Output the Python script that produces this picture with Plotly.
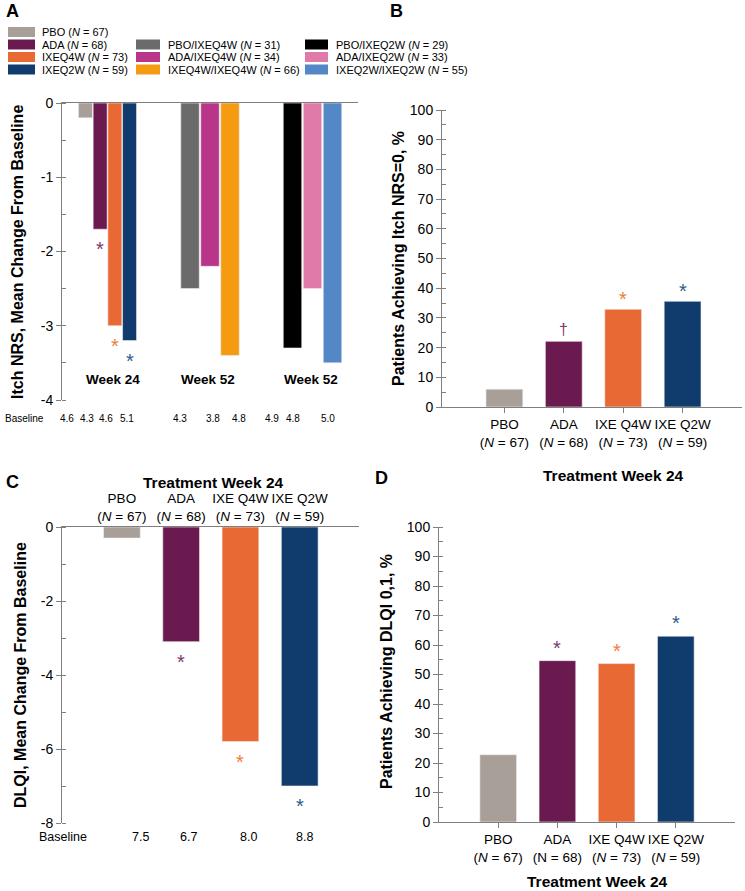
import plotly.graph_objects as go

# ---- data ----
w24_arms = ["PBO", "ADA", "IXEQ4W", "IXEQ2W"]
w24_n = [67, 68, 73, 59]
q4w_arms = ["PBO/IXEQ4W", "ADA/IXEQ4W", "IXEQ4W/IXEQ4W"]
q4w_n = [31, 34, 66]
q2w_arms = ["PBO/IXEQ2W", "ADA/IXEQ2W", "IXEQ2W/IXEQ2W"]
q2w_n = [29, 33, 55]

itch_w24 = [-0.2, -1.7, -3.0, -3.2]
itch_w52_q4w = [-2.5, -2.2, -3.4]
itch_w52_q2w = [-3.3, -2.5, -3.5]
itch_w24_sig = ["", "*", "*", "*"]
itch_groups = ["Week 24", "Week 52", "Week 52"]
itch_baseline = [4.6, 4.3, 4.6, 5.1, 4.3, 3.8, 4.8, 4.9, 4.8, 5.0]
itch_ticks = [0, -1, -2, -3, -4]

cat_names = ["PBO", "ADA", "IXE Q4W", "IXE Q2W"]
itch0_pct = [6.0, 22.1, 32.9, 35.6]
itch0_sig = ["", "\u2020", "*", "*"]

dlqi_change = [-0.3, -3.1, -5.8, -7.0]
dlqi_change_sig = ["", "*", "*", "*"]
dlqi_baseline = [7.5, 6.7, 8.0, 8.8]
dlqi_ticks = [0, -2, -4, -6, -8]

dlqi01_pct = [22.8, 54.7, 53.7, 63.0]
dlqi01_sig = ["", "*", "*", "*"]

w24_colors = ["#a89f99", "#6a1a4f", "#e96935", "#0f3c6c"]
q4w_colors = ["#6b6b6b", "#b9358a", "#f49b12"]
q2w_colors = ["#000000", "#e07ba9", "#5487c6"]
sig_colors = ["#a89f99", "#7a3a6c", "#f07b3c", "#2d5a92"]

W, H = 745, 891
FONT = "Arial, 'Liberation Sans', sans-serif"
AXC = "#7f7f7f"


def px(x):
    return x / W


def py(y):
    return 1 - y / H


def note(x, y, text, size, **kw):
    d = dict(x=px(x), y=py(y), xref="paper", yref="paper", text=text, showarrow=False,
             xanchor="center", yanchor="middle", font=dict(size=size, color="black"))
    d.update(kw)
    return d


fig = go.Figure()
ann = []
shapes = []

# ---- panel A: itch NRS change, three groups ----
a_center = [45.5, 148, 250.5]
a_step = [14.7, 20, 20]
a_width = [14, 18.5, 18.5]
groups = [(itch_w24, w24_colors), (itch_w52_q4w, q4w_colors), (itch_w52_q2w, q2w_colors)]
ax, ay, aw, ac = [], [], [], []
for g, (vals, cols) in enumerate(groups):
    n = len(vals)
    for i, v in enumerate(vals):
        ax.append(a_center[g] + (i - (n - 1) / 2) * a_step[g])
        ay.append(v)
        aw.append(a_width[g])
        ac.append(cols[i])
    ann.append(dict(x=a_center[g] + (5 if g == 0 else -2), y=-3.73, xref="x", yref="y",
                    xanchor="center", yanchor="middle",
                    text="<b>%s</b>" % itch_groups[g], showarrow=False,
                    font=dict(size=13.5, color="black")))
fig.add_trace(go.Bar(x=ax, y=ay, width=aw, marker=dict(color=ac, line=dict(width=0.6, color="#f4eeee")),
                     xaxis="x", yaxis="y", showlegend=False, hoverinfo="skip"))
for i, s in enumerate(itch_w24_sig):
    if s:
        ann.append(dict(x=ax[i], y=ay[i], xref="x", yref="y", text=s, showarrow=False,
                        xanchor="center", yanchor="middle",
                        yshift=-20, font=dict(size=20, color=sig_colors[i])))

baseline_a_px = [67, 87, 106, 127, 180, 213, 239, 272, 293, 328]
ann.append(note(3, 418, "Baseline", 10, xanchor="left"))
for xp, b in zip(baseline_a_px, itch_baseline):
    ann.append(note(xp, 418, "%.1f" % b, 10))

# ---- panel B / C / D: four arms at week 24 ----
cat_idx = list(range(len(cat_names)))
labels_n = ["%s<br>(<i>N</i> = %d)" % (c, n) for c, n in zip(cat_names, w24_n)]
labels_d = list(labels_n)
labels_d[1] = "%s<br>(N = %d)" % (cat_names[1], w24_n[1])

for xa, ya, vals in [("x2", "y2", itch0_pct), ("x3", "y3", dlqi_change), ("x4", "y4", dlqi01_pct)]:
    fig.add_trace(go.Bar(x=cat_idx, y=vals, width=0.62,
                         marker=dict(color=w24_colors, line=dict(width=0.6, color="#f4eeee")),
                         xaxis=xa, yaxis=ya, showlegend=False, hoverinfo="skip"))

for xa, ya, vals, sigs, shift in [("x2", "y2", itch0_pct, itch0_sig, 10),
                                  ("x3", "y3", dlqi_change, dlqi_change_sig, -20),
                                  ("x4", "y4", dlqi01_pct, dlqi01_sig, 13)]:
    for i, s in enumerate(sigs):
        if s:
            dag = s == "\u2020"
            ann.append(dict(x=i, y=vals[i], xref=xa, yref=ya, text=s, showarrow=False,
                            xanchor="center", yanchor="middle",
                            yshift=shift + (2 if dag else 0),
                            font=dict(size=16 if dag else 20, color=sig_colors[i])))

baseline_c_px = [140, 188, 248, 304]
ann.append(note(63, 837, "Baseline", 12.5))
for xp, b in zip(baseline_c_px, dlqi_baseline):
    ann.append(note(xp, 837, "%.1f" % b, 12.5))

# titles
for x, y in [(613, 475), (213, 482), (597, 881)]:
    ann.append(note(x, y, "<b>Treatment Week 24</b>", 15.5))
for x, y, t in [(17, 252, "Itch NRS, Mean Change From Baseline"),
                (398, 259, "Patients Achieving Itch NRS=0, %"),
                (20, 675, "DLQI, Mean Change From Baseline"),
                (386, 672, "Patients Achieving DLQI 0,1, %")]:
    ann.append(note(x, y, "<b>%s</b>" % t, 16, textangle=-90))
for x, y, t in [(13, 11, "A"), (396, 11, "B"), (13, 482, "C"), (381, 478, "D")]:
    ann.append(note(x, y, "<b>%s</b>" % t, 18))

# ---- legend (drawn by hand, three columns) ----
rows = [32, 44.5, 57, 69.5]
legend_cols = [(w24_arms, w24_n, w24_colors, 8, 35, 40, 0),
               (q4w_arms, q4w_n, q4w_colors, 136, 160, 166, 1),
               (q2w_arms, q2w_n, q2w_colors, 305, 328, 334, 1)]
for arms, ns, cols, x0, x1, xt, r0 in legend_cols:
    for k, (a, n, c) in enumerate(zip(arms, ns, cols)):
        yc = rows[r0 + k]
        shapes.append(dict(type="rect", xref="paper", yref="paper", x0=px(x0), x1=px(x1),
                           y0=py(yc + 5), y1=py(yc - 5), fillcolor=c, line=dict(width=0)))
        ann.append(note(xt, yc, "%s (<i>N</i> = %d)" % (a, n), 11, xanchor="left"))

yax = dict(showline=True, linecolor=AXC, linewidth=1, ticks="outside", ticklen=5, tickcolor=AXC,
           showgrid=False, zeroline=False, automargin=False, tickfont=dict(size=14, color="black"))
xax = dict(showline=True, linecolor=AXC, linewidth=1, showgrid=False, zeroline=False,
           automargin=False, tickfont=dict(size=13.5, color="black"))

fig.update_layout(
    width=W, height=H, margin=dict(l=0, r=0, t=0, b=0, pad=0, autoexpand=False),
    paper_bgcolor="white", plot_bgcolor="white",
    font=dict(family=FONT, color="black"),
    bargap=0, hovermode=False,
    xaxis=dict(xax, domain=[px(62), px(358)], range=[0, 296], anchor="y", side="top",
               showticklabels=False, ticks=""),
    yaxis=dict(yax, domain=[py(400), py(103)], range=[-4, 0], anchor="x",
               tickvals=itch_ticks, ticktext=[str(t) for t in itch_ticks],
               minor=dict(dtick=0.5, ticks="inside", ticklen=4, tickcolor=AXC)),
    xaxis2=dict(xax, domain=[px(442), px(742)], range=[-1.05, 4.0], anchor="y2",
                tickvals=cat_idx, ticktext=labels_n, ticks="outside", ticklen=5, tickcolor=AXC),
    yaxis2=dict(yax, domain=[py(407), py(110)], range=[0, 100], anchor="x2", dtick=10,
                minor=dict(dtick=5, ticks="inside", ticklen=4, tickcolor=AXC)),
    xaxis3=dict(xax, domain=[px(62), px(359)], range=[-1.01, 4.0], anchor="y3", side="top",
                tickvals=cat_idx, ticktext=labels_n, ticks=""),
    yaxis3=dict(yax, domain=[py(823), py(527)], range=[-8, 0], anchor="x3",
                tickvals=dlqi_ticks, ticktext=[str(t) for t in dlqi_ticks],
                minor=dict(dtick=1, ticks="inside", ticklen=4, tickcolor=AXC)),
    xaxis4=dict(xax, domain=[px(439), px(735)], range=[-1.0, 4.0], anchor="y4",
                tickvals=cat_idx, ticktext=labels_d, ticks="outside", ticklen=5, tickcolor=AXC),
    yaxis4=dict(yax, domain=[py(822), py(527)], range=[0, 100], anchor="x4", dtick=10,
                minor=dict(dtick=5, ticks="inside", ticklen=4, tickcolor=AXC)),
    annotations=ann,
    shapes=shapes,
)

# the page's default body margin would push the figure 8px down and right
fig.write_html("out.html", config={"displayModeBar": False, "staticPlot": True},
               post_script="document.body.style.margin='0';")
